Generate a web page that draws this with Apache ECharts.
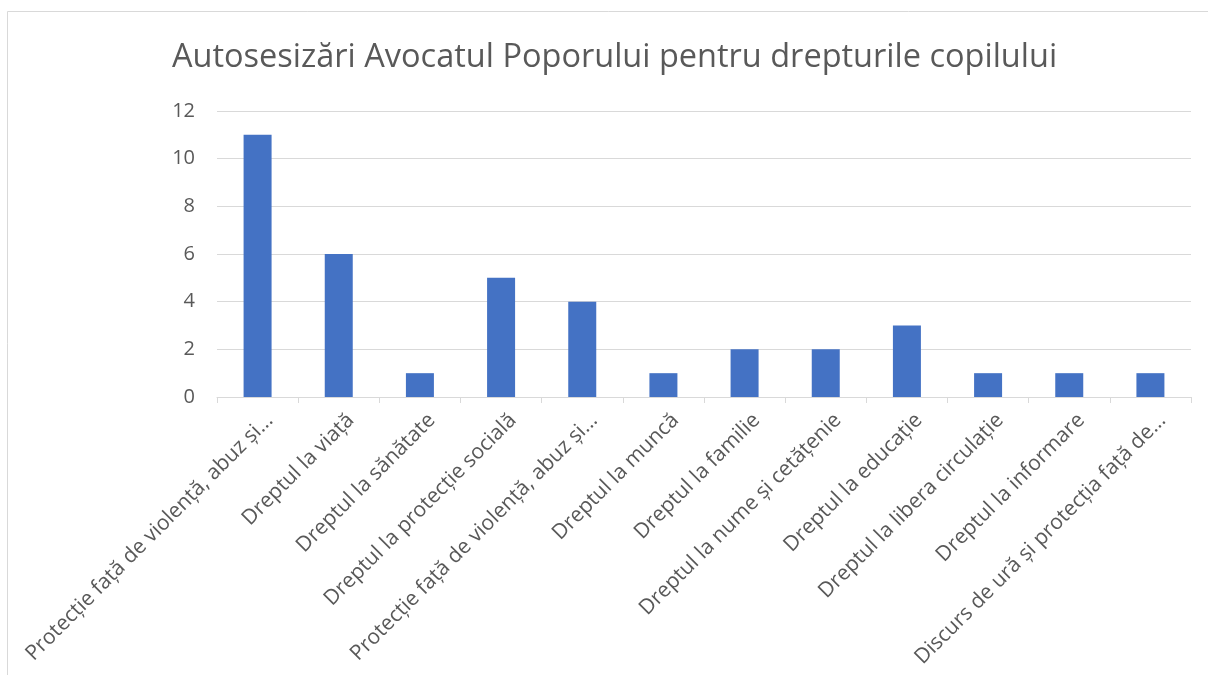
<!DOCTYPE html>
<html>
<head>
<meta charset="utf-8">
<script src="https://cdn.jsdelivr.net/npm/echarts@6/dist/echarts.min.js"></script>
<style>
html,body{margin:0;padding:0;background:#fff;}
#chart{width:1208px;height:675px;}
</style>
</head>
<body>
<div id="chart"></div>
<script>
const titleText = 'Autosesizări Avocatul Poporului pentru drepturile copilului';
const categories = [
  'Protecție față de violență, abuz și...',
  'Dreptul la viață',
  'Dreptul la sănătate',
  'Dreptul la protecție socială',
  'Protecție față de violență, abuz și...',
  'Dreptul la muncă',
  'Dreptul la familie',
  'Dreptul la nume și cetățenie',
  'Dreptul la educație',
  'Dreptul la libera circulație',
  'Dreptul la informare',
  'Discurs de ură și protecția față de...'
];
const values = [11, 6, 1, 5, 4, 1, 2, 2, 3, 1, 1, 1];
const yTicks = {min: 0, max: 12, interval: 2};

const chart = echarts.init(document.getElementById('chart'), null, {renderer: 'canvas'});
const FONT = '"Open Sans", "Noto Sans", sans-serif';
chart.setOption({
  animation: false,
  backgroundColor: '#ffffff',
  graphic: [{
    type: 'rect',
    shape: {x: 7.5, y: 11.5, width: 1220, height: 700},
    style: {fill: 'none', stroke: '#D9D9D9', lineWidth: 1},
    silent: true
  }],
  title: {
    text: titleText,
    left: 167,
    top: 36,
    textStyle: {fontFamily: FONT, fontSize: 32.5, fontWeight: 'normal', color: '#595959'}
  },
  grid: {left: 217, right: 17, top: 111, bottom: 276, containLabel: false},
  xAxis: {
    type: 'category',
    data: categories,
    boundaryGap: true,
    axisLine: {lineStyle: {color: '#D9D9D9', width: 1}},
    axisTick: {show: true, alignWithLabel: false, length: 6, lineStyle: {color: '#D9D9D9'}},
    axisLabel: {
      rotate: 45,
      interval: 0,
      margin: 8,
      verticalAlign: 'top',
      lineHeight: 34,
      fontFamily: FONT,
      fontSize: 21,
      color: '#595959'
    }
  },
  yAxis: {
    type: 'value',
    min: yTicks.min,
    max: yTicks.max,
    interval: yTicks.interval,
    axisLine: {show: false},
    axisTick: {show: false},
    splitLine: {lineStyle: {color: '#D9D9D9', width: 1}},
    axisLabel: {margin: 22, fontFamily: FONT, fontSize: 20, color: '#595959'}
  },
  series: [{
    type: 'bar',
    data: values,
    barWidth: 28,
    itemStyle: {color: '#4472C4'}
  }]
});
</script>
</body>
</html>
